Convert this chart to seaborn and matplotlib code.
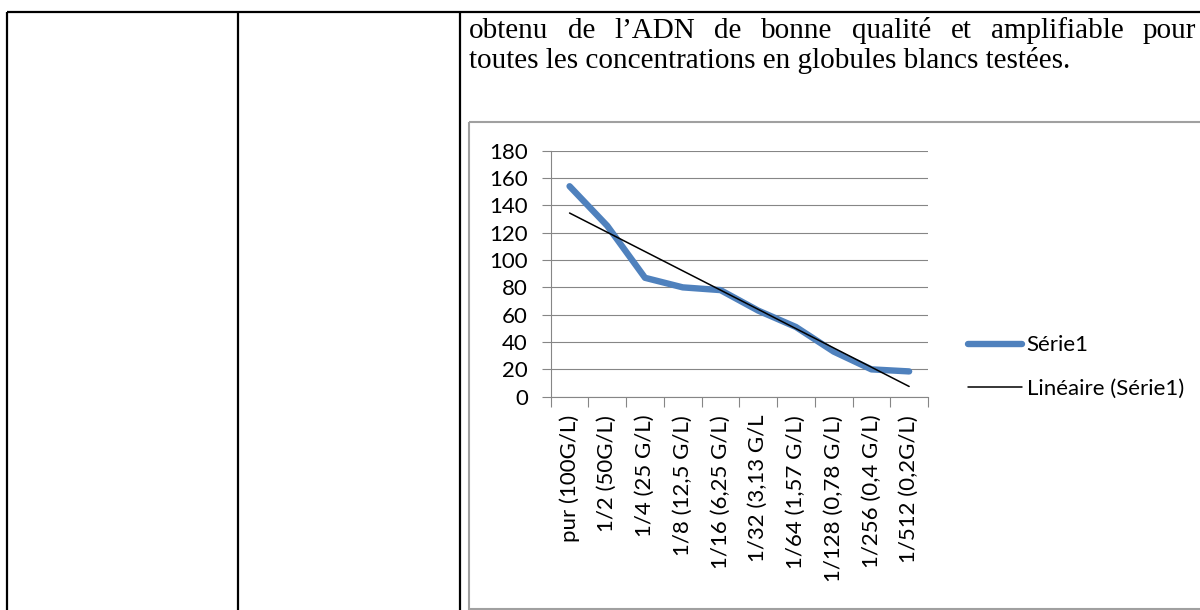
import numpy as np
import matplotlib
matplotlib.use("Agg")
import matplotlib.pyplot as plt
from matplotlib.patches import Rectangle
import seaborn as sns

# Dilutions of the white-blood-cell suspension and the measured values
dilutions = [
    "pur (100G/L)", "1/2 (50G/L)", "1/4 (25 G/L)", "1/8 (12,5 G/L)",
    "1/16 (6,25 G/L)", "1/32 (3,13 G/L", "1/64 (1,57 G/L)",
    "1/128 (0,78 G/L)", "1/256 (0,4 G/L)", "1/512 (0,2G/L)",
]
serie1 = [154, 125, 87, 80, 78, 63, 51, 33, 20, 18.5]
y_ticks = [0, 20, 40, 60, 80, 100, 120, 140, 160, 180]
series_label = "Série1"
trend_label = "Linéaire (Série1)"
paragraph = [
    "obtenu de l’ADN de bonne qualité et amplifiable pour",
    "toutes les concentrations en globules blancs testées.",
]

sns.set_theme(style="white")
plt.rcParams["font.family"] = ["Lato", "DejaVu Sans"]

W, H = 1200, 610
fig = plt.figure(figsize=(W / 100, H / 100), dpi=100)
fig.patch.set_facecolor("white")

# Page layer in pixel coordinates: table rules, chart frame, paragraph
page = fig.add_axes([0, 0, 1, 1])
page.set_xlim(0, W)
page.set_ylim(H, 0)
page.axis("off")

rule = dict(color="black", lw=1.6, solid_capstyle="butt")
page.plot([7, W], [12, 12], **rule)
for xv in (7, 238, 460):
    page.plot([xv, xv], [12, H], **rule)
page.add_patch(Rectangle((469, 122), 900, 487, fill=False,
                         ec="#A0A0A0", lw=1.5))

serif = ["Liberation Serif", "DejaVu Serif"]
fs = 21
renderer = fig.canvas.get_renderer()

# first line justified between the cell margins
words = paragraph[0].split()
arts = [page.text(0, 37.5, w, family=serif, fontsize=fs, va="baseline",
                  ha="left", color="black") for w in words]
widths = [a.get_window_extent(renderer).width for a in arts]
gap = ((1196 - 469) - sum(widths)) / (len(words) - 1)
xc = 469
for a, wd in zip(arts, widths):
    a.set_x(xc)
    xc += wd + gap
page.text(469, 68, paragraph[1], family=serif, fontsize=fs,
          va="baseline", ha="left", color="black")

# Chart
ax = fig.add_axes([550.7 / W, 1 - 396.7 / H, 377.3 / W, 246 / H])
ax.set_zorder(2)
ax.patch.set_alpha(0)
pos = np.arange(len(dilutions))

sns.lineplot(x=pos, y=serie1, ax=ax, color="#4F81BD", lw=4.6,
             label=series_label, solid_capstyle="round",
             solid_joinstyle="round")
sns.regplot(x=pos, y=serie1, ax=ax, scatter=False, ci=None, truncate=True,
            color="black", label=trend_label, line_kws={"lw": 1.1})

grey = "#868686"
lab_fs = 16
ax.set_xlim(-0.5, len(dilutions) - 0.5)
ax.set_ylim(0, 180)
ax.set_yticks(y_ticks)
ax.set_yticklabels([str(v) for v in y_ticks])
ax.yaxis.grid(True, color=grey, lw=0.8)
ax.xaxis.grid(False)
for s in ("top", "right"):
    ax.spines[s].set_visible(False)
for s in ("left", "bottom"):
    ax.spines[s].set_color(grey)
    ax.spines[s].set_linewidth(0.8)

ax.set_xticks(np.arange(-0.5, len(dilutions), 1))
ax.set_xticklabels([])
ax.set_xticks(pos, minor=True)
ax.set_xticklabels(dilutions, minor=True, rotation=90, ha="center", va="top")
ax.tick_params(axis="x", which="major", bottom=True, length=7, width=0.8,
               color=grey, direction="out")
ax.tick_params(axis="x", which="minor", bottom=True, length=0, pad=13,
               labelsize=lab_fs, labelcolor="black")
ax.tick_params(axis="y", left=True, length=6.5, width=0.8, color=grey,
               direction="out", pad=10, labelsize=lab_fs, labelcolor="black")
ax.set_xlabel("")
ax.set_ylabel("")

handles, labels = ax.get_legend_handles_labels()
if ax.get_legend() is not None:
    ax.get_legend().remove()
fig.legend(handles, labels, loc="center left",
           bbox_to_anchor=(968 / W, 1 - 367 / H), frameon=False,
           handlelength=2.44, handletextpad=0.2, labelspacing=1.05,
           fontsize=lab_fs, borderpad=0, borderaxespad=0, labelcolor="black")

fig.savefig("out.png", dpi=100, facecolor="white")
